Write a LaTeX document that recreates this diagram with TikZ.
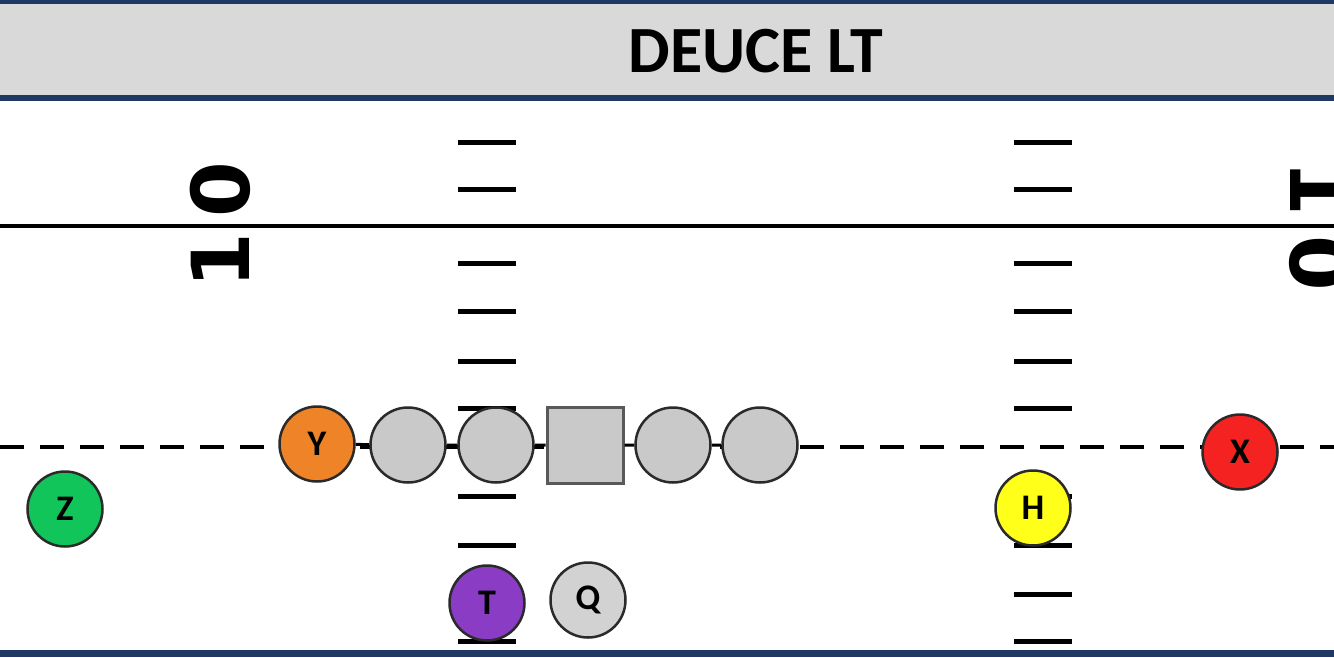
\documentclass[tikz,border=0pt]{standalone}
\usepackage{fontspec}
\setmainfont{Carlito}
\newfontfamily\numfont{DejaVu Sans}
\definecolor{navy}{HTML}{1F3864}
\definecolor{hdrgray}{HTML}{D9D9D9}
\definecolor{olgray}{HTML}{C9C9C9}
\definecolor{qgray}{HTML}{D2D2D2}
\definecolor{yorange}{HTML}{EE8427}
\definecolor{zgreen}{HTML}{12C55A}
\definecolor{tpurple}{HTML}{8A3CC4}
\definecolor{hyellow}{HTML}{FFFF1A}
\definecolor{xred}{HTML}{F52222}
\definecolor{edge}{HTML}{2A2A2A}
\tikzset{
  hashmark/.style={line width=5pt},
  fieldline/.style={line width=4.5pt},
  los/.style={line width=4pt, dash pattern=on 24pt off 16pt},
  player/.style={circle, draw=edge, line width=2.5pt, minimum size=75pt, inner sep=0pt,
    font=\bfseries\fontsize{36}{36}\selectfont},
  lineman/.style={player, fill=olgray},
  center/.style={rectangle, draw=black!65, line width=3pt, fill=olgray, minimum size=76pt, inner sep=0pt},
  yardnum/.style={font=\numfont\bfseries\fontsize{80}{80}\selectfont, inner sep=0pt}
}
\begin{document}
\begin{tikzpicture}[x=1pt,y=-1pt]
\useasboundingbox (0,0) rectangle (1334,657);
% header
\fill[navy] (0,0) rectangle (1334,4);
\fill[hdrgray] (0,4) rectangle (1334,95);
\fill[navy] (0,95) rectangle (1334,101);
\fill[navy] (0,650) rectangle (1334,657);
\node[font=\bfseries\fontsize{66}{70}\selectfont, inner sep=0pt] (title) at (756,51) {DEUCE LT};
% field line
\draw[fieldline] (0,226) -- (1334,226);
% yard numbers
\node[yardnum, rotate=90] (l1) at (220,261) {1};
\node[yardnum, rotate=90] (l0) at (220,190) {0};
\node[yardnum, rotate=-90] (r1) at (1320,188) {1};
\node[yardnum, rotate=-90] (r0) at (1320,263) {0};
% hash marks
\foreach \yy in {142,189,263,311,361,408,496,545,594,641}{
  \draw[hashmark] (458,\yy) -- (516,\yy);
  \draw[hashmark] (1014,\yy) -- (1072,\yy);
}
% line of scrimmage
\draw[los] (0,447) -- (1334,447);
% players
\node[player, fill=yorange] (Y) at (317,444) {Y};
\node[lineman] (LT) at (408,445) {};
\node[lineman] (LG) at (496,445) {};
\node[center] (C) at (585,445) {};
\node[lineman] (RG) at (673,445) {};
\node[lineman] (RT) at (760,445) {};
\draw[line width=3pt] (Y) -- (LT) (LT) -- (LG) (LG) -- (C) (C) -- (RG) (RG) -- (RT);
\node[player, fill=zgreen] (Z) at (65,509) {Z};
\node[player, fill=tpurple] (T) at (487,603) {T};
\node[player, fill=qgray] (Q) at (588,600) {Q};
\node[player, fill=hyellow] (H) at (1033,508) {H};
\node[player, fill=xred] (X) at (1240,452) {X};
\end{tikzpicture}
\end{document}
